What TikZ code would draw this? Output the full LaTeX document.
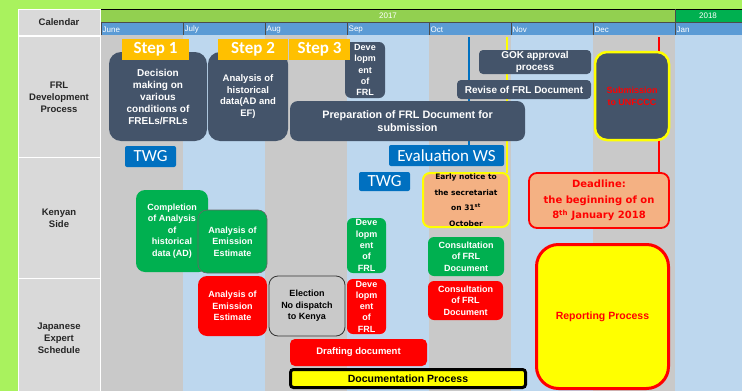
\documentclass[tikz,border=0pt]{standalone}
\usepackage{fontspec}
\setmainfont{Liberation Sans}
\newfontfamily\calibri{Carlito}
\newfontfamily\verdana{DejaVu Sans}
\definecolor{limebg}{HTML}{A9F25E}
\definecolor{cellgrey}{HTML}{D9D9D9}
\definecolor{labelink}{HTML}{262626}
\definecolor{yeargreen}{HTML}{92D050}
\definecolor{nextgreen}{HTML}{00B050}
\definecolor{monthblue}{HTML}{5B9BD5}
\definecolor{colgrey}{HTML}{C9C9C9}
\definecolor{colblue}{HTML}{BDD7EE}
\definecolor{slate}{HTML}{44546A}
\definecolor{stepgold}{HTML}{FFC000}
\definecolor{twgblue}{HTML}{0070C0}
\definecolor{kgreen}{HTML}{00B050}
\definecolor{jred}{HTML}{FF0000}
\definecolor{salmon}{HTML}{F4B183}
\definecolor{hiyellow}{HTML}{FFFF00}

\begin{document}
\begin{tikzpicture}[x=1pt, y=-1pt,
    box/.style={rounded corners=7pt, align=center, inner sep=0pt, font=\bfseries\fontsize{9}{11.5}\selectfont},
    darkbox/.style={box, fill=slate, text=white},
    greenbox/.style={box, fill=kgreen, text=white},
    redbox/.style={box, fill=jred, text=white},
    stepbox/.style={fill=stepgold, text=white, inner sep=0pt, font=\calibri\bfseries\fontsize{17}{17}\selectfont},
    twgbox/.style={fill=twgblue, text=white, rounded corners=2pt, inner sep=0pt, font=\calibri\fontsize{17}{17}\selectfont},
    rowlabel/.style={align=center, text=labelink, font=\bfseries\fontsize{9.5}{12}\selectfont},
    monthlabel/.style={anchor=west, text=white, inner sep=0pt, font=\fontsize{8}{8}\selectfont}]

  \fill[limebg] (0,0) rectangle (742,391);
  \useasboundingbox (0,0) rectangle (742,391);

  % Left column
  \fill[white] (18,9) rectangle (101,391);
  \fill[cellgrey] (18.5,9.5) rectangle (99.5,35);
  \fill[cellgrey] (18.5,36.5) rectangle (99.5,156.5);
  \fill[cellgrey] (18.5,158) rectangle (99.5,277.5);
  \fill[cellgrey] (18.5,279) rectangle (99.5,391);
  \node[rowlabel] (calLabel) at (59,22) {Calendar};
  \node[rowlabel] (frlLabel) at (59,97) {FRL\\Development\\Process};
  \node[rowlabel] (kenLabel) at (59,218) {Kenyan\\Side};
  \node[rowlabel] (jpLabel) at (59,338) {Japanese\\Expert\\Schedule};

  % Calendar header
  \fill[yeargreen] (101,9) rectangle (675,22.5);
  \fill[nextgreen] (675,9) rectangle (742,22.5);
  \fill[monthblue] (101,22.5) rectangle (742,35);
  \draw[black, line width=1pt] (101,9) -- (742,9);
  \draw[black!70, line width=0.6pt] (101,22.5) -- (742,22.5);
  \draw[black!70, line width=0.6pt] (675,9) -- (675,22.5);
  \node[text=white, font=\fontsize{8}{8}\selectfont] (year2017) at (388,16) {2017};
  \node[text=white, font=\fontsize{8}{8}\selectfont] (year2018) at (708,16) {2018};

  % Month columns
  \foreach \m/\c [count=\i from 0] in {June/colgrey, July/colblue, Aug/colgrey, Sep/colblue, Oct/colgrey, Nov/colblue, Dec/colgrey, Jan/colblue}{
    \pgfmathsetmacro\xa{101+82*\i}
    \pgfmathsetmacro\xb{min(\xa+82,742)}
    \fill[\c] (\xa,35) rectangle (\xb,391);
    \draw[black!70, line width=0.6pt] (\xa,22.5) -- (\xa,35);
    \node[monthlabel] (month\i) at (\xa+1.5,29.5) {\m};
  }

  % Milestone lines
  \coordinate (blueTop) at (469,37);
  \coordinate (blueFoot) at (469,145);
  \coordinate (yellowTop) at (507,37);
  \coordinate (yellowFoot) at (507,173);
  \coordinate (redTop) at (659,37);
  \coordinate (redFoot) at (659,173);
  \draw[twgblue, line width=1.5pt] (blueTop) -- (blueFoot);
  \draw[hiyellow, line width=2pt] (yellowTop) -- (yellowFoot);
  \draw[jred, line width=2pt] (redTop) -- (redFoot);

  % FRL development process
  \node[darkbox, rounded corners=12pt, minimum width=98pt, minimum height=89pt, font=\bfseries\fontsize{10}{12}\selectfont] (decision) at (158,96.5) {Decision\\making on\\various\\conditions of\\FRELs/FRLs};
  \node[darkbox, rounded corners=12pt, minimum width=80pt, minimum height=89pt, font=\bfseries\fontsize{9.5}{11.5}\selectfont] (histData) at (248,96.5) {Analysis of\\historical\\data(AD and\\EF)};
  \node[darkbox, rounded corners=6pt, minimum width=40pt, minimum height=56pt, font=\bfseries\fontsize{9}{11.3}\selectfont] (devDark) at (365,70) {Deve\\lopm\\ent\\of\\FRL};
  \node[stepbox, minimum width=67pt, minimum height=21pt] (step1) at (155.5,49.5) {Step 1};
  \node[stepbox, minimum width=70pt, minimum height=21pt] (step2) at (253,49.5) {Step 2};
  \node[stepbox, minimum width=61pt, minimum height=21pt] (step3) at (319.5,49.5) {Step 3};
  \node[darkbox, rounded corners=8pt, minimum width=235pt, minimum height=40pt, font=\bfseries\fontsize{10.8}{13}\selectfont] (prep) at (407.5,121) {Preparation of FRL Document for\\submission};
  \node[darkbox, rounded corners=4pt, minimum width=112pt, minimum height=24pt, font=\bfseries\fontsize{10}{12.5}\selectfont] (gok) at (535,62) {GOK approval\\process};
  \node[darkbox, rounded corners=4pt, minimum width=134pt, minimum height=19pt, font=\bfseries\fontsize{10}{12}\selectfont] (revise) at (524,89.5) {Revise of FRL Document};
  \node[darkbox, draw=hiyellow, line width=2.5pt, rounded corners=12pt, minimum width=74pt, minimum height=88pt, text=jred, font=\bfseries\fontsize{9}{12}\selectfont] (submit) at (632,96) {Submission\\to UNFCCC};

  % Workshops
  \node[twgbox, minimum width=51pt, minimum height=21pt] (twgJune) at (150.5,156.5) {TWG};
  \node[twgbox, minimum width=115pt, minimum height=21pt] (evalWS) at (446.5,155.5) {Evaluation WS};
  \node[twgbox, minimum width=51pt, minimum height=19pt] (twgSep) at (384.5,181.5) {TWG};

  % Kenyan side
  \node[box, fill=salmon, draw=hiyellow, line width=2pt, minimum width=86pt, minimum height=54pt, text=black, font=\verdana\bfseries\fontsize{7.5}{15.5}\selectfont] (notice) at (466,200) {Early notice to\\the secretariat\\on 31\textsuperscript{st}\\October};
  \node[box, fill=salmon, draw=jred, line width=1.8pt, rounded corners=8pt, minimum width=140pt, minimum height=55pt, text=jred, font=\verdana\bfseries\fontsize{10}{15.5}\selectfont] (deadline) at (599,200.5) {Deadline:\\the beginning of on\\8\textsuperscript{th} January 2018};
  \node[greenbox, rounded corners=9pt, minimum width=72pt, minimum height=82pt] (completion) at (172,231) {Completion\\of Analysis\\of\\historical\\data (AD)};
  \node[greenbox, draw=black!60, line width=0.6pt, rounded corners=9pt, minimum width=69pt, minimum height=63pt] (kenEmission) at (232.5,241.5) {Analysis of\\Emission\\Estimate};
  \node[greenbox, rounded corners=6pt, minimum width=39pt, minimum height=55pt, font=\bfseries\fontsize{9}{11.3}\selectfont] (kenDev) at (366.5,245.5) {Deve\\lopm\\ent\\of\\FRL};
  \node[greenbox, rounded corners=6pt, minimum width=76pt, minimum height=39pt] (kenConsult) at (466,256.5) {Consultation\\of FRL\\Document};
  \node[box, fill=hiyellow, draw=jred, line width=3pt, rounded corners=22pt, minimum width=132pt, minimum height=144pt, text=jred, font=\bfseries\fontsize{10.5}{12}\selectfont] (reporting) at (602.5,316.5) {Reporting Process};

  % Japanese expert schedule
  \node[redbox, rounded corners=9pt, minimum width=69pt, minimum height=60pt] (jpEmission) at (232.5,306) {Analysis of\\Emission\\Estimate};
  \node[box, fill=colgrey, draw=black!80, line width=0.8pt, rounded corners=9pt, minimum width=76pt, minimum height=60pt, text=black] (election) at (307,306) {Election\\No dispatch\\to Kenya};
  \node[redbox, rounded corners=6pt, minimum width=39pt, minimum height=55pt, font=\bfseries\fontsize{9}{11.3}\selectfont] (jpDev) at (366.5,306.5) {Deve\\lopm\\ent\\of\\FRL};
  \node[redbox, rounded corners=6pt, minimum width=75pt, minimum height=39pt] (jpConsult) at (465.5,300.5) {Consultation\\of FRL\\Document};
  \node[redbox, rounded corners=5pt, minimum width=137pt, minimum height=27pt, font=\bfseries\fontsize{9.5}{12}\selectfont] (drafting) at (358.5,352.5) {Drafting document};
  \node[box, fill=hiyellow, draw=black, line width=3pt, rounded corners=3pt, minimum width=235pt, minimum height=18pt, text=black, font=\bfseries\fontsize{10.5}{12}\selectfont] (documentation) at (408,378.5) {Documentation Process};
\end{tikzpicture}
\end{document}
